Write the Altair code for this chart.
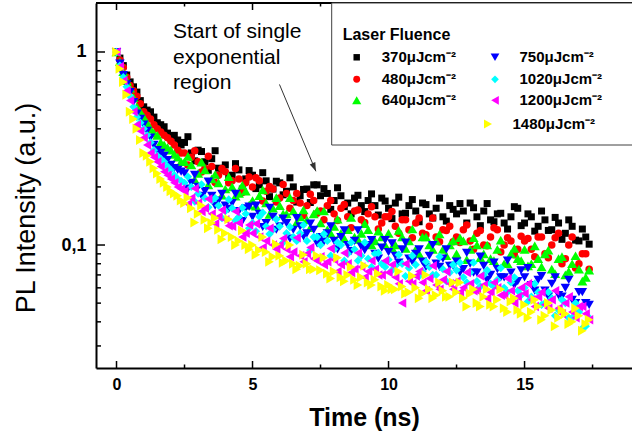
import altair as alt
import pandas as pd

# ---------------- data ----------------
# two interleaved sampling grids (ns)
time_a = [0, 0.25, 0.5, 0.75, 1, 1.25, 1.5, 1.75, 2, 2.25,
          2.5, 2.75, 3, 3.25, 3.5, 3.75, 4, 4.25, 4.5, 4.75,
          5, 5.25, 5.5, 5.75, 6, 6.25, 6.5, 6.75, 7, 7.25,
          7.5, 7.75, 8, 8.25, 8.5, 8.75, 9, 9.25, 9.5, 9.75,
          10, 10.25, 10.5, 10.75, 11, 11.25, 11.5, 11.75, 12, 12.25,
          12.5, 12.75, 13, 13.25, 13.5, 13.75, 14, 14.25, 14.5, 14.75,
          15, 15.25, 15.5, 15.75, 16, 16.25, 16.5, 16.75, 17, 17.25]
time_b = [0.125, 0.375, 0.625, 0.875, 1.125, 1.375, 1.625, 1.875, 2.125, 2.375,
          2.625, 2.875, 3.125, 3.375, 3.625, 3.875, 4.125, 4.375, 4.625, 4.875,
          5.125, 5.375, 5.625, 5.875, 6.125, 6.375, 6.625, 6.875, 7.125, 7.375,
          7.625, 7.875, 8.125, 8.375, 8.625, 8.875, 9.125, 9.375, 9.625, 9.875,
          10.125, 10.375, 10.625, 10.875, 11.125, 11.375, 11.625, 11.875, 12.125, 12.375,
          12.625, 12.875, 13.125, 13.375, 13.625, 13.875, 14.125, 14.375, 14.625, 14.875,
          15.125, 15.375, 15.625, 15.875, 16.125, 16.375, 16.625, 16.875, 17.125, 17.375]

series_names = ["370", "480", "640", "750", "1020", "1200", "1480"]
legend_labels = ["370\u03bcJcm\u207b\u00b2", "480\u03bcJcm\u207b\u00b2", "640\u03bcJcm\u207b\u00b2",
                 "750\u03bcJcm\u207b\u00b2", "1020\u03bcJcm\u207b\u00b2", "1200\u03bcJcm\u207b\u00b2",
                 "1480\u03bcJcm\u207b\u00b2"]
legend_title = "Laser Fluence"

pl_370_a = [1.00, 0.85, 0.70, 0.62, 0.52, 0.49, 0.43, 0.41, 0.36, 0.35,
            0.34, 0.30, 0.31, 0.27, 0.28, 0.25, 0.26, 0.23, 0.245, 0.22,
            0.23, 0.205, 0.215, 0.195, 0.21, 0.19, 0.20, 0.18, 0.195, 0.205,
            0.18, 0.185, 0.17, 0.18, 0.165, 0.175, 0.16, 0.17, 0.16, 0.175,
            0.155, 0.165, 0.145, 0.16, 0.15, 0.165, 0.145, 0.155, 0.14, 0.16,
            0.145, 0.15, 0.165, 0.14, 0.15, 0.135, 0.145, 0.13, 0.14, 0.155,
            0.13, 0.14, 0.125, 0.135, 0.12, 0.13, 0.115, 0.125, 0.105, 0.11]
pl_370_b = [0.93, 0.76, 0.66, 0.56, 0.50, 0.46, 0.42, 0.38, 0.37, 0.33,
            0.364, 0.273, 0.305, 0.244, 0.308, 0.247, 0.225, 0.264, 0.195, 0.243,
            0.196, 0.237, 0.178, 0.214, 0.182, 0.223, 0.167, 0.194, 0.166, 0.205,
            0.196, 0.153, 0.198, 0.158, 0.145, 0.181, 0.149, 0.184, 0.143, 0.169,
            0.137, 0.177, 0.146, 0.172, 0.132, 0.162, 0.138, 0.175, 0.133, 0.153,
            0.164, 0.130, 0.156, 0.126, 0.164, 0.132, 0.146, 0.121, 0.158, 0.126,
            0.145, 0.118, 0.150, 0.119, 0.139, 0.107, 0.135, 0.106, 0.121, 0.101]
pl_480_a = [1.00, 0.83, 0.67, 0.59, 0.49, 0.45, 0.40, 0.37, 0.345, 0.31,
            0.30, 0.285, 0.27, 0.25, 0.255, 0.23, 0.24, 0.215, 0.22, 0.21,
            0.20, 0.215, 0.19, 0.195, 0.175, 0.185, 0.17, 0.165, 0.16, 0.17,
            0.15, 0.16, 0.145, 0.155, 0.14, 0.15, 0.135, 0.145, 0.14, 0.13,
            0.14, 0.125, 0.135, 0.12, 0.13, 0.115, 0.125, 0.11, 0.12, 0.125,
            0.11, 0.12, 0.105, 0.115, 0.10, 0.11, 0.12, 0.10, 0.105, 0.095,
            0.105, 0.095, 0.11, 0.09, 0.10, 0.115, 0.085, 0.11, 0.08, 0.09]
pl_480_b = [0.91, 0.74, 0.63, 0.54, 0.47, 0.42, 0.385, 0.36, 0.33, 0.30,
            0.260, 0.308, 0.239, 0.288, 0.211, 0.249, 0.210, 0.249, 0.187, 0.225,
            0.223, 0.169, 0.201, 0.167, 0.206, 0.155, 0.185, 0.142, 0.183, 0.146,
            0.135, 0.170, 0.134, 0.162, 0.123, 0.152, 0.131, 0.158, 0.121, 0.140,
            0.149, 0.115, 0.135, 0.109, 0.138, 0.113, 0.138, 0.104, 0.119, 0.104,
            0.103, 0.127, 0.095, 0.119, 0.099, 0.123, 0.092, 0.109, 0.089, 0.111,
            0.108, 0.087, 0.110, 0.086, 0.109, 0.080, 0.100, 0.076, 0.090, 0.075]
pl_640_a = [1.00, 0.79, 0.65, 0.52, 0.46, 0.40, 0.37, 0.33, 0.31, 0.285,
            0.27, 0.26, 0.235, 0.245, 0.22, 0.21, 0.195, 0.20, 0.185, 0.19,
            0.17, 0.18, 0.165, 0.155, 0.16, 0.145, 0.15, 0.14, 0.135, 0.145,
            0.13, 0.12, 0.125, 0.115, 0.12, 0.11, 0.115, 0.12, 0.105, 0.11,
            0.115, 0.10, 0.11, 0.105, 0.095, 0.11, 0.10, 0.105, 0.095, 0.10,
            0.09, 0.105, 0.095, 0.10, 0.09, 0.085, 0.095, 0.08, 0.09, 0.085,
            0.095, 0.08, 0.085, 0.09, 0.075, 0.085, 0.07, 0.08, 0.075, 0.068]
pl_640_b = [0.89, 0.71, 0.58, 0.49, 0.43, 0.38, 0.34, 0.32, 0.295, 0.27,
            0.288, 0.218, 0.269, 0.205, 0.232, 0.181, 0.226, 0.179, 0.204, 0.161,
            0.159, 0.193, 0.144, 0.176, 0.145, 0.176, 0.131, 0.152, 0.123, 0.151,
            0.150, 0.115, 0.136, 0.108, 0.139, 0.107, 0.129, 0.100, 0.118, 0.100,
            0.097, 0.119, 0.096, 0.121, 0.090, 0.110, 0.095, 0.114, 0.088, 0.105,
            0.109, 0.084, 0.109, 0.086, 0.100, 0.083, 0.106, 0.080, 0.096, 0.083,
            0.078, 0.099, 0.077, 0.094, 0.071, 0.087, 0.073, 0.088, 0.065, 0.074]
pl_750_a = [1.00, 0.76, 0.62, 0.48, 0.42, 0.36, 0.31, 0.29, 0.26, 0.245,
            0.235, 0.21, 0.20, 0.19, 0.18, 0.17, 0.16, 0.165, 0.15, 0.155,
            0.14, 0.145, 0.13, 0.14, 0.125, 0.13, 0.12, 0.125, 0.115, 0.12,
            0.11, 0.115, 0.105, 0.11, 0.10, 0.105, 0.098, 0.10, 0.09, 0.097,
            0.092, 0.088, 0.095, 0.085, 0.09, 0.082, 0.088, 0.08, 0.085, 0.078,
            0.082, 0.075, 0.08, 0.072, 0.078, 0.07, 0.075, 0.068, 0.072, 0.065,
            0.068, 0.062, 0.066, 0.058, 0.063, 0.055, 0.06, 0.052, 0.057, 0.05]
pl_750_b = [0.87, 0.68, 0.55, 0.45, 0.39, 0.33, 0.30, 0.275, 0.25, 0.24,
            0.196, 0.231, 0.180, 0.213, 0.160, 0.184, 0.154, 0.184, 0.133, 0.158,
            0.160, 0.124, 0.156, 0.120, 0.137, 0.108, 0.138, 0.111, 0.129, 0.102,
            0.104, 0.125, 0.095, 0.119, 0.093, 0.119, 0.094, 0.106, 0.085, 0.106,
            0.102, 0.081, 0.103, 0.082, 0.095, 0.077, 0.100, 0.077, 0.095, 0.078,
            0.072, 0.091, 0.072, 0.087, 0.066, 0.081, 0.068, 0.083, 0.062, 0.074,
            0.076, 0.058, 0.069, 0.054, 0.068, 0.054, 0.066, 0.050, 0.057, 0.049]
pl_1020_a = [1.00, 0.74, 0.59, 0.46, 0.40, 0.34, 0.29, 0.27, 0.245, 0.22,
             0.21, 0.20, 0.185, 0.175, 0.17, 0.16, 0.15, 0.155, 0.14, 0.145,
             0.13, 0.14, 0.125, 0.12, 0.125, 0.115, 0.11, 0.115, 0.105, 0.11,
             0.10, 0.105, 0.095, 0.10, 0.09, 0.095, 0.088, 0.085, 0.09, 0.08,
             0.084, 0.078, 0.08, 0.076, 0.079, 0.073, 0.077, 0.07, 0.075, 0.072,
             0.074, 0.068, 0.072, 0.065, 0.07, 0.063, 0.066, 0.06, 0.064, 0.058,
             0.06, 0.054, 0.057, 0.05, 0.053, 0.046, 0.05, 0.042, 0.045, 0.038]
pl_1020_b = [0.85, 0.66, 0.52, 0.43, 0.37, 0.31, 0.28, 0.255, 0.23, 0.215,
             0.226, 0.168, 0.206, 0.157, 0.175, 0.138, 0.172, 0.134, 0.156, 0.122,
             0.118, 0.147, 0.114, 0.136, 0.103, 0.124, 0.105, 0.127, 0.094, 0.110,
             0.114, 0.088, 0.103, 0.083, 0.103, 0.083, 0.103, 0.077, 0.091, 0.077,
             0.074, 0.089, 0.069, 0.088, 0.069, 0.082, 0.070, 0.087, 0.065, 0.079,
             0.081, 0.064, 0.081, 0.061, 0.074, 0.061, 0.076, 0.057, 0.068, 0.055,
             0.051, 0.063, 0.049, 0.057, 0.043, 0.052, 0.042, 0.050, 0.037, 0.042]
pl_1200_a = [1.00, 0.71, 0.56, 0.42, 0.36, 0.30, 0.27, 0.24, 0.22, 0.20,
             0.19, 0.175, 0.165, 0.155, 0.145, 0.14, 0.135, 0.125, 0.13, 0.115,
             0.115, 0.11, 0.105, 0.10, 0.10, 0.095, 0.092, 0.088, 0.09, 0.085,
             0.087, 0.082, 0.084, 0.079, 0.08, 0.075, 0.077, 0.073, 0.075, 0.07,
             0.072, 0.068, 0.05, 0.065, 0.069, 0.064, 0.067, 0.062, 0.066, 0.063,
             0.065, 0.06, 0.063, 0.058, 0.062, 0.057, 0.06, 0.055, 0.058, 0.054,
             0.056, 0.052, 0.054, 0.049, 0.052, 0.047, 0.05, 0.045, 0.048, 0.044]
pl_1200_b = [0.84, 0.63, 0.49, 0.39, 0.33, 0.285, 0.255, 0.23, 0.21, 0.195,
             0.163, 0.196, 0.149, 0.173, 0.129, 0.152, 0.126, 0.149, 0.110, 0.127,
             0.129, 0.097, 0.122, 0.095, 0.108, 0.087, 0.109, 0.082, 0.097, 0.083,
             0.079, 0.096, 0.073, 0.091, 0.072, 0.091, 0.068, 0.083, 0.070, 0.083,
             0.079, 0.063, 0.080, 0.063, 0.073, 0.058, 0.078, 0.059, 0.073, 0.059,
             0.057, 0.072, 0.058, 0.069, 0.053, 0.064, 0.055, 0.067, 0.050, 0.060,
             0.063, 0.048, 0.057, 0.047, 0.058, 0.044, 0.054, 0.042, 0.048, 0.041]
pl_1480_a = [1.00, 0.70, 0.49, 0.40, 0.30, 0.27, 0.235, 0.21, 0.19, 0.18,
             0.165, 0.155, 0.145, 0.135, 0.13, 0.12, 0.115, 0.11, 0.105, 0.10,
             0.10, 0.094, 0.092, 0.087, 0.088, 0.083, 0.08, 0.078, 0.08, 0.075,
             0.074, 0.071, 0.073, 0.068, 0.07, 0.066, 0.068, 0.064, 0.066, 0.061,
             0.062, 0.059, 0.061, 0.057, 0.06, 0.056, 0.059, 0.055, 0.058, 0.054,
             0.057, 0.053, 0.056, 0.05, 0.054, 0.049, 0.052, 0.047, 0.051, 0.046,
             0.049, 0.045, 0.048, 0.043, 0.046, 0.042, 0.044, 0.04, 0.043, 0.039]
pl_1480_b = [0.82, 0.60, 0.45, 0.35, 0.29, 0.25, 0.22, 0.20, 0.185, 0.17,
             0.176, 0.131, 0.160, 0.122, 0.138, 0.107, 0.136, 0.100, 0.119, 0.095,
             0.089, 0.110, 0.082, 0.101, 0.081, 0.100, 0.075, 0.089, 0.075, 0.088,
             0.086, 0.067, 0.086, 0.065, 0.077, 0.062, 0.078, 0.062, 0.071, 0.058,
             0.059, 0.073, 0.056, 0.069, 0.053, 0.070, 0.053, 0.064, 0.054, 0.064,
             0.064, 0.048, 0.059, 0.048, 0.059, 0.048, 0.059, 0.045, 0.053, 0.044,
             0.042, 0.052, 0.041, 0.050, 0.038, 0.046, 0.039, 0.047, 0.036, 0.041]

x_major_ticks = [0, 5, 10, 15]
x_minor_ticks = [2.5, 7.5, 12.5, 17.5]
y_major_ticks = [0.1, 1]
y_minor_ticks = [0.03, 0.04, 0.05, 0.06, 0.07, 0.08, 0.09,
                 0.2, 0.3, 0.4, 0.5, 0.6, 0.7, 0.8, 0.9]

annotation_lines = ["Start of single", "exponential", "region"]
arrow_t = [5.99, 7.33]
arrow_v = [0.679, 0.241]

x_title = "Time (ns)"
y_title = "PL Intensity (a.u.)"

# ---------------- styling ----------------
colors = ["#000000", "#ff0000", "#00ff00", "#0000ff", "#00ffff", "#ff00ff", "#ffff00"]
shapes = ["square", "circle", "triangle-up", "triangle-down", "diamond",
          "triangle-left", "triangle-right"]
sizes = [49, 56, 100, 90, 70, 90, 100]
FONT = "Liberation Sans"
W, H = 536, 365

xs = alt.Scale(domain=[-0.754, 18.95], nice=False, zero=False)
ys = alt.Scale(type="log", domain=[0.02306, 1.794], nice=False)

XA = alt.Axis(values=x_major_ticks, tickSize=0, domain=True, domainColor="black",
              domainWidth=2, grid=False, labelFont=FONT, labelFontSize=16,
              labelFontWeight="bold", labelColor="black", labelPadding=8,
              title=x_title, titleFont=FONT, titleFontSize=25, titleFontWeight="bold",
              titleColor="black", titlePadding=13)
YA = alt.Axis(values=y_major_ticks, tickSize=0, domain=True, domainColor="black",
              domainWidth=2, grid=False, labelFont=FONT, labelFontSize=18,
              labelFontWeight="bold", labelColor="black", labelPadding=10,
              labelExpr="replace(toString(datum.value), '.', ',')", title=None)


def X(field):
    return alt.X(field, scale=xs, axis=XA)


def Y(field):
    return alt.Y(field, scale=ys, axis=YA)


series_a = [pl_370_a, pl_480_a, pl_640_a, pl_750_a, pl_1020_a, pl_1200_a, pl_1480_a]
series_b = [pl_370_b, pl_480_b, pl_640_b, pl_750_b, pl_1020_b, pl_1200_b, pl_1480_b]

layers = []
for i, name in enumerate(series_names):
    df = pd.DataFrame({"t": time_a + time_b, "v": series_a[i] + series_b[i], "series": name})
    df = df.sort_values("t")
    layers.append(
        alt.Chart(df).mark_point(shape=shapes[i], filled=True, opacity=1, size=sizes[i],
                                 color=colors[i], strokeWidth=0)
        .encode(x=X("t:Q"), y=Y("v:Q"))
    )


# inward ticks
def xticks(vals, length, top):
    d = pd.DataFrame({"t": vals})
    if top:
        yy, yy2 = alt.value(0), alt.value(length)
    else:
        yy, yy2 = alt.value(H), alt.value(H - length)
    return alt.Chart(d).mark_rule(color="black", strokeWidth=1.5).encode(
        x=X("t:Q"), y=yy, y2=yy2)


def yticks(vals, length):
    d = pd.DataFrame({"v": vals})
    return alt.Chart(d).mark_rule(color="black", strokeWidth=1.5).encode(
        y=Y("v:Q"), x=alt.value(0), x2=alt.value(length))


layers += [xticks(x_major_ticks, 7, False), xticks(x_minor_ticks, 3.5, False),
           xticks(x_major_ticks, 7, True), xticks(x_minor_ticks, 3.5, True),
           yticks(y_major_ticks, 9), yticks(y_minor_ticks, 5)]

dummy = pd.DataFrame({"k": [0]})
# top frame line
layers.append(alt.Chart(dummy).mark_rule(color="black", strokeWidth=2).encode(
    x=alt.value(0), x2=alt.value(W + 10), y=alt.value(0)))

# y title
layers.append(alt.Chart(dummy).mark_text(text=y_title, angle=270, font=FONT, fontSize=27,
                                         align="center", baseline="middle", color="black")
              .encode(x=alt.value(-69), y=alt.value(205)))

# annotation
layers.append(alt.Chart(dummy).mark_text(text=annotation_lines, font=FONT, fontSize=21,
                                         align="left", baseline="alphabetic", lineHeight=25.5,
                                         color="black")
              .encode(x=alt.value(77), y=alt.value(35)))
arrow_df = pd.DataFrame({"t": [arrow_t[0]], "v": [arrow_v[0]], "t2": [arrow_t[1]], "v2": [arrow_v[1]]})
layers.append(alt.Chart(arrow_df).mark_rule(color="#333333", strokeWidth=1).encode(
    x=X("t:Q"), y=Y("v:Q"), x2="t2:Q", y2="v2:Q"))
head_df = pd.DataFrame({"t": [arrow_t[1]], "v": [arrow_v[1]]})
layers.append(alt.Chart(head_df).mark_point(shape="M0,0 L-0.35,-1 L0.35,-1 Z", filled=True,
                                            size=300, angle=337, color="#333333", opacity=1,
                                            strokeWidth=0)
              .encode(x=X("t:Q"), y=Y("v:Q")))

# legend box
layers.append(alt.Chart(dummy).mark_rect(fill="white", stroke="#404040", strokeWidth=1).encode(
    x=alt.value(235.7), x2=alt.value(W + 20), y=alt.value(0), y2=alt.value(142)))
layers.append(alt.Chart(dummy).mark_text(text=legend_title, font=FONT, fontSize=16,
                                         fontWeight="bold", align="left", baseline="middle",
                                         color="black")
              .encode(x=alt.value(246.7), y=alt.value(32)))
row_y = [54.3, 76.3, 97.3, 121]
for i, lab in enumerate(legend_labels):
    col = 0 if i < 3 else 1
    row = i if i < 3 else i - 3
    sx = 260.7 if col == 0 else 399
    lx = 285.7 if col == 0 else 423.5
    if i == 6:
        sx -= 7
        lx -= 7
    layers.append(alt.Chart(dummy).mark_point(shape=shapes[i], filled=True, opacity=1,
                                              size=sizes[i] * 0.85, color=colors[i], strokeWidth=0)
                  .encode(x=alt.value(sx), y=alt.value(row_y[row])))
    layers.append(alt.Chart(dummy).mark_text(text=lab, font=FONT, fontSize=15, fontWeight="bold",
                                             align="left", baseline="middle", color="black")
                  .encode(x=alt.value(lx), y=alt.value(row_y[row])))

chart = alt.layer(*layers).properties(
    width=W, height=H,
    padding={"left": 96, "top": 3, "right": 0, "bottom": 73},
    autosize=alt.AutoSizeParams(type="none"),
    background="white",
).configure_view(strokeWidth=0)

chart.save("out.html", embed_options={"renderer": "svg", "actions": False})
